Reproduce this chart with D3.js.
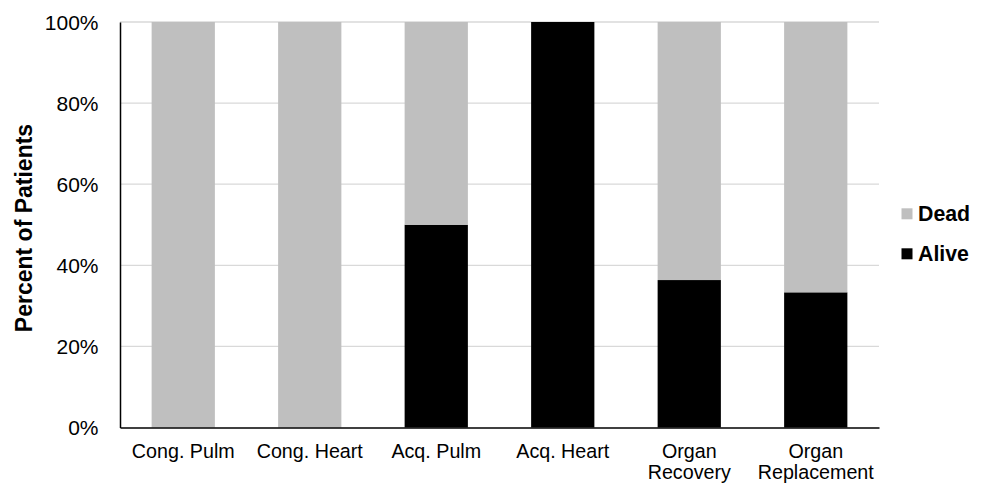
<!DOCTYPE html>
<html>
<head>
<meta charset="utf-8">
<script src="https://cdn.jsdelivr.net/npm/d3@7"></script>
<style>
  body { margin: 0; background: #fff; }
  svg { font-family: "Liberation Sans", Arial, sans-serif; }
</style>
</head>
<body>
<svg id="chart" width="987" height="484"></svg>
<script>
// Outcome share by patient group
const categories = ["Cong. Pulm", "Cong. Heart", "Acq. Pulm", "Acq. Heart", "Organ Recovery", "Organ Replacement"];
const categoryLines = [["Cong. Pulm"], ["Cong. Heart"], ["Acq. Pulm"], ["Acq. Heart"], ["Organ", "Recovery"], ["Organ", "Replacement"]];
const alive = [0, 0, 0.5, 1, 4 / 11, 1 / 3];
const dead = [1, 1, 0.5, 0, 7 / 11, 2 / 3];
const yTicks = [0, 0.2, 0.4, 0.6, 0.8, 1];
const seriesNames = ["Dead", "Alive"];
const seriesColors = { Alive: "#000000", Dead: "#bfbfbf" };

const margin = { top: 22, right: 108, bottom: 56.5, left: 120 };
const svg = d3.select("#chart");
const W = 987, H = 484;
const innerW = W - margin.left - margin.right;
const innerH = H - margin.top - margin.bottom;
const g = svg.append("g").attr("transform", `translate(${margin.left},${margin.top})`);

const x = d3.scaleBand().domain(categories).range([0, innerW]).paddingInner(0.5).paddingOuter(0.25);
const y = d3.scaleLinear().domain([0, 1]).range([innerH, 0]);

// gridlines
g.selectAll(".grid").data(yTicks.filter(t => t > 0)).join("line")
  .attr("x1", 0).attr("x2", innerW)
  .attr("y1", d => y(d)).attr("y2", d => y(d))
  .attr("stroke", "#d9d9d9").attr("stroke-width", 1.3);

// stacked bars
const rows = categories.map((c, i) => ({ cat: c, Alive: alive[i], Dead: dead[i] }));
const stack = d3.stack().keys(["Alive", "Dead"])(rows);
g.selectAll(".series").data(stack).join("g")
  .attr("fill", d => seriesColors[d.key])
  .selectAll("rect").data(d => d).join("rect")
  .attr("x", d => x(d.data.cat))
  .attr("width", x.bandwidth())
  .attr("y", d => y(d[1]))
  .attr("height", d => y(d[0]) - y(d[1]));

// y axis
const yAxis = g.append("g").call(d3.axisLeft(y).tickValues(yTicks).tickFormat(d3.format(".0%")).tickSize(0).tickPadding(21.5));
yAxis.select(".domain").attr("stroke", "#000").attr("stroke-width", 1.5);
yAxis.selectAll("text").attr("font-size", 21).attr("fill", "#000").attr("dy", "0.35em");

// x axis
const xAxis = g.append("g").attr("transform", `translate(0,${innerH})`)
  .call(d3.axisBottom(x).tickSize(0).tickFormat(""));
xAxis.select(".domain").attr("stroke", "#000").attr("stroke-width", 1.5);
xAxis.selectAll(".tick").each(function (d, i) {
  const t = d3.select(this).append("text")
    .attr("fill", "#000").attr("font-size", 19.7).attr("text-anchor", "middle");
  categoryLines[i].forEach((line, j) => {
    t.append("tspan").attr("x", 0).attr("y", 30.5 + j * 20.5).text(line);
  });
});

// y axis title
svg.append("text")
  .attr("transform", "translate(32,228) rotate(-90)")
  .attr("text-anchor", "middle")
  .attr("font-size", 23).attr("font-weight", "bold")
  .text("Percent of Patients");

// legend
const legend = svg.append("g").attr("transform", "translate(901.5,208.3)");
seriesNames.forEach((name, i) => {
  const row = legend.append("g").attr("transform", `translate(0,${i * 40})`);
  row.append("rect").attr("width", 11).attr("height", 11).attr("fill", seriesColors[name]);
  row.append("text").attr("x", 16.5).attr("y", 12.5)
    .attr("font-size", 21.3).attr("font-weight", "bold").text(name);
});
</script>
</body>
</html>
